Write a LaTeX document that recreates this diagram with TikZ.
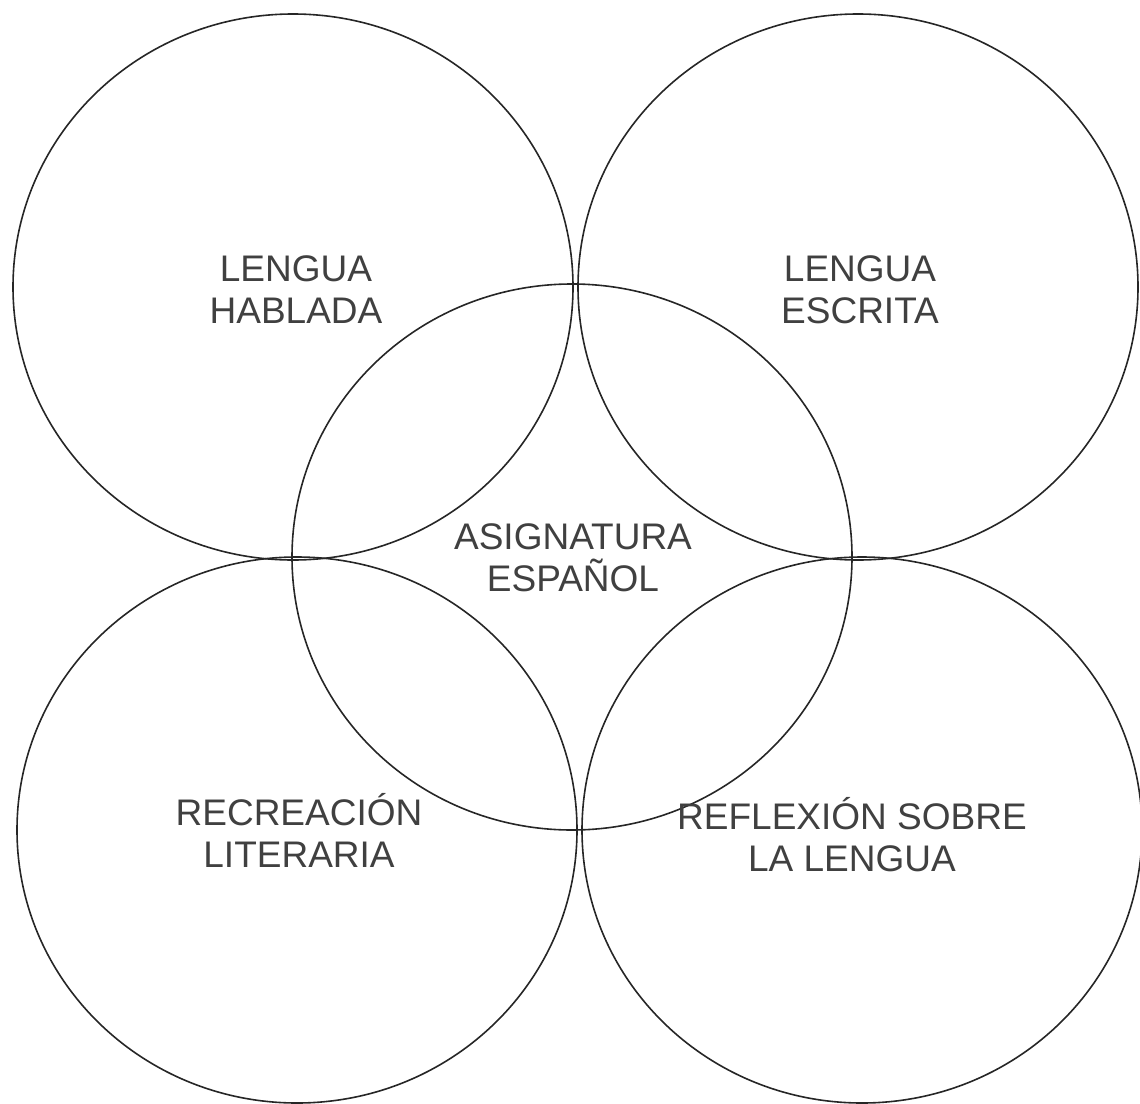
\documentclass[tikz,border=0pt]{standalone}
\usepackage{fontspec}
\setmainfont{Liberation Sans}
\usetikzlibrary{positioning, shapes.geometric}

\begin{document}
\begin{tikzpicture}[
	x=0.5pt, y=-0.5pt,
	font=\fontsize{18.5}{21}\selectfont,
	% Define styles
	area/.style={ellipse, draw=black!85, line width=0.8pt, minimum width=280pt, minimum height=273pt, inner sep=0pt},
	areatext/.style={align=center, text=black!75, inner sep=0pt}
	]
	
	\useasboundingbox (0,0) rectangle (1140,1103);
	
	% 1. Outer areas
	\node[area] (hablada) at (293,287) {};
	\node[area] (escrita) at (858,287) {};
	\node[area] (recreacion) at (297,830) {};
	\node[area] (reflexion) at (862,830) {};
	
	% 2. Central subject
	\node[area] (asignatura) at (572,557) {};
	
	% 3. Texts
	\node[areatext] (tHablada) at (296,290) {LENGUA\\HABLADA};
	\node[areatext] (tEscrita) at (860,290) {LENGUA\\ESCRITA};
	\node[areatext] (tAsignatura) at (573,558) {ASIGNATURA\\ESPAÑOL};
	\node[areatext] (tRecreacion) at (299,830) {RECREACIÓN\\LITERARIA};
	\node[areatext] (tReflexion) at (852,835) {REFLEXIÓN SOBRE\\LA LENGUA};
\end{tikzpicture}
\end{document}
